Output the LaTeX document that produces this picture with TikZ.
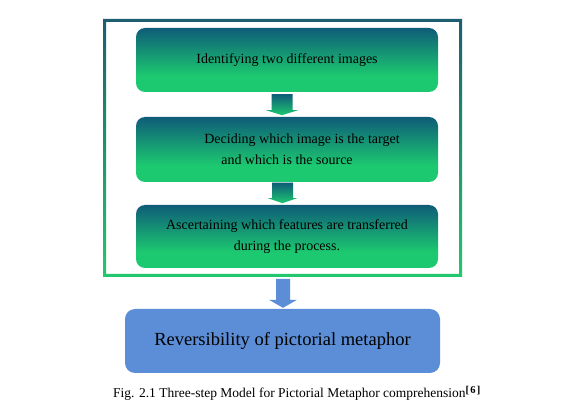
\documentclass[tikz,border=0pt]{standalone}
\usepackage{fontspec}
\setmainfont{Liberation Serif}
\usetikzlibrary{calc}
\definecolor{bteal}{HTML}{0F5C78}
\definecolor{bgreen}{HTML}{1CC870}
\definecolor{fteal}{HTML}{1D5E70}
\definecolor{fgreen}{HTML}{22C86E}
\definecolor{bblue}{HTML}{5B8ED6}
\pgfdeclareverticalshading{boxshade}{100bp}{color(0bp)=(bgreen); color(25bp)=(bgreen); color(38bp)=(bgreen); color(75bp)=(bteal); color(100bp)=(bteal)}
\pgfdeclareverticalshading{arrshade}{100bp}{color(0bp)=(bgreen); color(25bp)=(bgreen); color(75bp)=(bteal); color(100bp)=(bteal)}
\begin{document}
\begin{tikzpicture}[x=1pt,y=-1pt,
  stepbox/.style={shade, shading=boxshade, rounded corners=9pt, minimum width=302pt, align=center, inner sep=0pt, font=\fontsize{14}{21}\selectfont},
  finalbox/.style={fill=bblue, rounded corners=10pt, minimum width=315pt, minimum height=64pt, inner sep=0pt, font=\fontsize{18.5}{22}\selectfont},
  greenarrow/.style={shading=arrshade},
  bluearrow/.style={fill=bblue}]
\useasboundingbox (0,0) rectangle (587,406);
\fill[white] (0,0) rectangle (587,406);
% frame
\shade[top color=fteal, bottom color=fgreen, even odd rule] (103,19) rectangle (462,277) (106,22) rectangle (459,274);
% boxes
\node[stepbox, minimum height=64pt] (b1) at (287,60) {Identifying two different images};
\node[stepbox, minimum height=65pt] (b2) at (287,149.5) {\hspace*{30pt}Deciding which image is the target\\and which is the source};
\node[stepbox, minimum height=63pt] (b3) at (287,236.5) {Ascertaining which features are transferred\\during the process.};
\node[finalbox] (b4) at (282.5,341) {Reversibility of pictorial metaphor};
% arrows
\shade[greenarrow] ($(b1.south)+(-5,2)$) ++(-10.5,0) -- ++(21,0) -- ++(0,16) -- ++(5.5,0) -- ++(-16,5) -- ++(-16,-5) -- ++(5.5,0) -- cycle;
\shade[greenarrow] ($(b2.south)+(-4.5,0.5)$) ++(-10.5,0) -- ++(21,0) -- ++(0,15.5) -- ++(4,0) -- ++(-14.5,5) -- ++(-14.5,-5) -- ++(4,0) -- cycle;
\coordinate (a3) at ($(b4.north)+(0.5,-30)$);
\fill[bluearrow] (a3) ++(-7,0) -- ++(14,0) -- ++(0,21) -- ++(7,0) -- ++(-14,8) -- ++(-14,-8) -- ++(7,0) -- cycle;
% caption
\node[anchor=base west, inner sep=0pt, font=\fontsize{13.5}{16}\selectfont] (cap) at (113,398) {Fig. 2.1 Three-step Model for Pictorial Metaphor comprehension\raisebox{5pt}{\fontsize{10.5}{10}\selectfont\addfontfeature{LetterSpace=12}\textbf{[6]}}};
\end{tikzpicture}
\end{document}
